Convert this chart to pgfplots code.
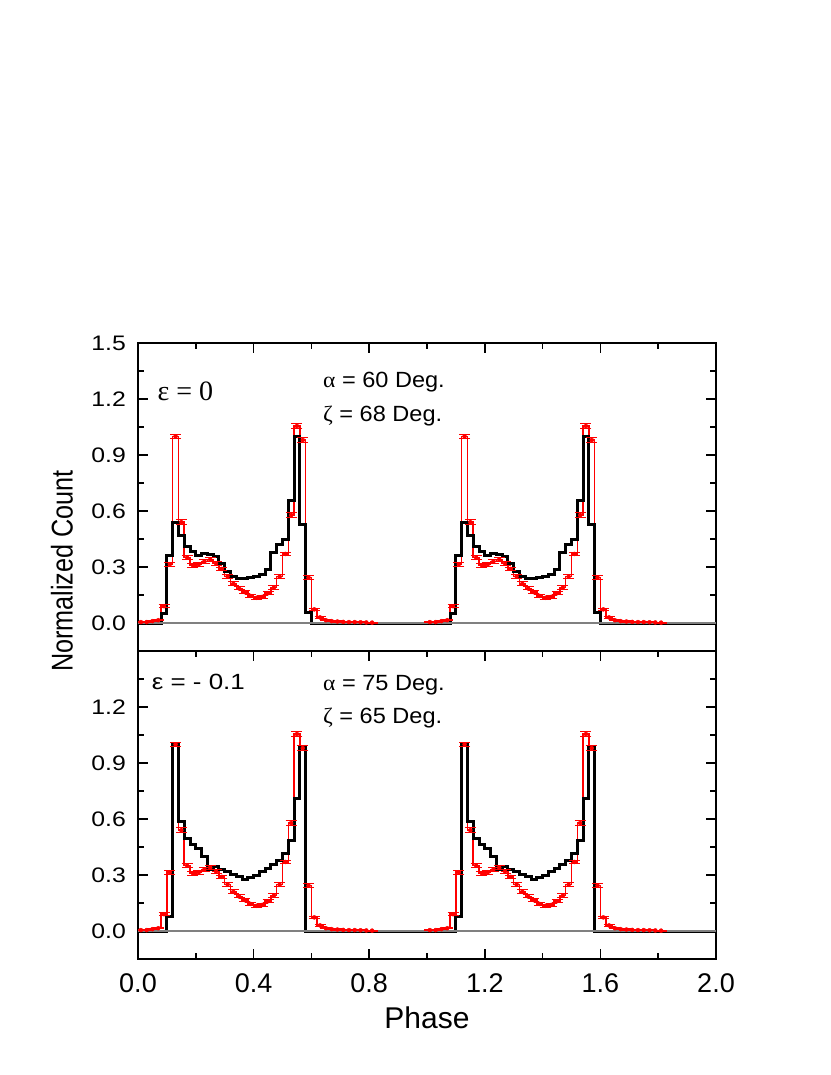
\documentclass[border=0pt]{standalone}
\usepackage{pgfplots}
\pgfplotsset{compat=1.18}
\usepackage{pgfplotstable}
\usepackage{fontspec}
\setmainfont{Liberation Sans}
\newfontfamily\serif{Liberation Serif}
\newfontfamily\wide[FakeStretch=1.18]{Liberation Sans}
\newfontfamily\widemid[FakeStretch=1.07]{Liberation Sans}
\newfontfamily\narrow[FakeStretch=0.84]{Liberation Sans}
\newfontfamily\serifwide[FakeStretch=1.07]{Liberation Serif}

\pgfplotstableread{
x    top    bot    red    err
0.00 0      0      0.005  0.003
0.02 0      0      0.005  0.003
0.04 0      0      0.010  0.003
0.06 0      0      0.015  0.004
0.08 0.050  0      0.090  0.008
0.10 0.360  0.080  0.315  0.010
0.12 0.537  1.000  1.000  0.012
0.14 0.470  0.589  0.540  0.012
0.16 0.410  0.497  0.350  0.010
0.18 0.385  0.466  0.310  0.010
0.20 0.360  0.443  0.315  0.010
0.22 0.370  0.400  0.330  0.010
0.24 0.365  0.330  0.340  0.010
0.26 0.355  0.348  0.320  0.010
0.28 0.320  0.330  0.290  0.010
0.30 0.275  0.318  0.250  0.010
0.32 0.250  0.304  0.210  0.010
0.34 0.240  0.290  0.185  0.008
0.36 0.240  0.278  0.165  0.008
0.38 0.243  0.288  0.145  0.008
0.40 0.250  0.300  0.135  0.008
0.42 0.262  0.318  0.140  0.008
0.44 0.287  0.336  0.160  0.008
0.46 0.377  0.354  0.190  0.010
0.48 0.420  0.377  0.248  0.010
0.50 0.445  0.413  0.370  0.010
0.52 0.658  0.487  0.578  0.012
0.54 1.000  0.710  1.055  0.015
0.56 0.530  0.987  0.980  0.015
0.58 0.055  0      0.243  0.010
0.60 0      0      0.073  0.006
0.62 0      0      0.030  0.005
0.64 0      0      0.015  0.004
0.66 0      0      0.010  0.003
0.68 0      0      0.008  0.003
0.70 0      0      0.006  0.003
0.72 0      0      0.005  0.003
0.74 0      0      0.005  0.003
0.76 0      0      0.004  0.003
0.78 0      0      0.003  0.002
0.80 0      0      0.002  0.002
0.82 0      0      0      0
0.84 0      0      0      0
0.86 0      0      0      0
0.88 0      0      0      0
0.90 0      0      0      0
0.92 0      0      0      0
0.94 0      0      0      0
0.96 0      0      0      0
0.98 0      0      0      0
1.00 0      0      0      0
}\data

\pgfplotsset{
  panel/.style={
    scale only axis, width=578pt, height=308pt,
    xmin=0, xmax=2, ymin=-0.15, ymax=1.5,
    xtick={0,0.4,0.8,1.2,1.6,2}, minor xtick={0.2,0.6,1.0,1.4,1.8},
    tick align=inside,
    major tick length=10pt, minor tick length=6pt,
    every tick/.style={black, line width=1.6pt},
    every minor tick/.style={black, line width=1.6pt},
    axis line style={line width=2pt},
    ytick pos=both,
    /pgf/number format/assume math mode=true,
    yticklabel style={font=\fontsize{21}{25}\wide, inner sep=0pt, xshift=-12pt,
      /pgf/number format/.cd, fixed, fixed zerofill, precision=1},
    xticklabel style={font=\fontsize{27}{30}\selectfont, inner sep=0pt, yshift=-14pt,
      /pgf/number format/.cd, fixed, fixed zerofill, precision=1},
  },
  redline/.style={red, line width=1.5pt, const plot mark left},
  blackline/.style={black, line width=3pt, const plot mark left},
  errs/.style={only marks, mark=none, red,
    skip coords between index={41}{51},
    error bars/.cd, y dir=both, y explicit,
    error bar style={draw=red, solid, line width=1pt},
    error mark options={draw=red, rotate=90, mark size=5.5pt, line width=1pt}},
}

\begin{document}
\begin{tikzpicture}[x=1pt,y=1pt]
\useasboundingbox (0,0) rectangle (830,-1075);

% top panel
\begin{axis}[panel, at={(138pt,-343pt)}, anchor=north west,
  xtick pos=right, xticklabels={},
  ytick={0,0.3,0.6,0.9,1.2,1.5}, minor ytick={0.15,0.45,0.75,1.05,1.35}]
\addplot[redline] table[x=x,y=red]{\data};
\addplot[redline] table[x expr=\thisrow{x}+1,y=red]{\data};
\addplot[blackline] table[x=x,y=top]{\data};
\addplot[blackline] table[x expr=\thisrow{x}+1,y=top]{\data};
\addplot[gray, line width=2pt] coordinates {(0,0) (2,0)};
\addplot[errs] table[x expr=\thisrow{x}+0.01,y=red,y error=err]{\data};
\addplot[errs] table[x expr=\thisrow{x}+1.01,y=red,y error=err]{\data};
\node[anchor=base west, inner sep=0pt, font=\fontsize{28}{32}\serif] at (axis cs:0.067,1.194) {ε = 0};
\node[anchor=base west, inner sep=0pt, font=\fontsize{22}{26}\widemid] at (axis cs:0.64,1.262) {{\serifwide α} = 60 Deg.};
\node[anchor=base west, inner sep=0pt, font=\fontsize{22}{26}\widemid] at (axis cs:0.64,1.078) {{\serifwide ζ} = 68 Deg.};
\end{axis}

% bottom panel
\begin{axis}[panel, at={(138pt,-651pt)}, anchor=north west,
  xtick pos=both,
  ytick={0,0.3,0.6,0.9,1.2}, minor ytick={0.15,0.45,0.75,1.05,1.35}]
\addplot[redline] table[x=x,y=red]{\data};
\addplot[redline] table[x expr=\thisrow{x}+1,y=red]{\data};
\addplot[blackline] table[x=x,y=bot]{\data};
\addplot[blackline] table[x expr=\thisrow{x}+1,y=bot]{\data};
\addplot[gray, line width=2pt] coordinates {(0,0) (2,0)};
\addplot[errs] table[x expr=\thisrow{x}+0.01,y=red,y error=err]{\data};
\addplot[errs] table[x expr=\thisrow{x}+1.01,y=red,y error=err]{\data};
\node[anchor=base west, inner sep=0pt, font=\fontsize{22}{26}\wide] at (axis cs:0.047,1.296) {ε = - 0.1};
\node[anchor=base west, inner sep=0pt, font=\fontsize{22}{26}\widemid] at (axis cs:0.64,1.291) {{\serifwide α} = 75 Deg.};
\node[anchor=base west, inner sep=0pt, font=\fontsize{22}{26}\widemid] at (axis cs:0.64,1.112) {{\serifwide ζ} = 65 Deg.};
\end{axis}

\node[rotate=90, inner sep=0pt, font=\fontsize{30}{34}\narrow] at (62pt,-571pt) {Normalized Count};
\node[anchor=base, inner sep=0pt, font=\fontsize{30}{34}\selectfont] at (427pt,-1028pt) {Phase};
\end{tikzpicture}
\end{document}
